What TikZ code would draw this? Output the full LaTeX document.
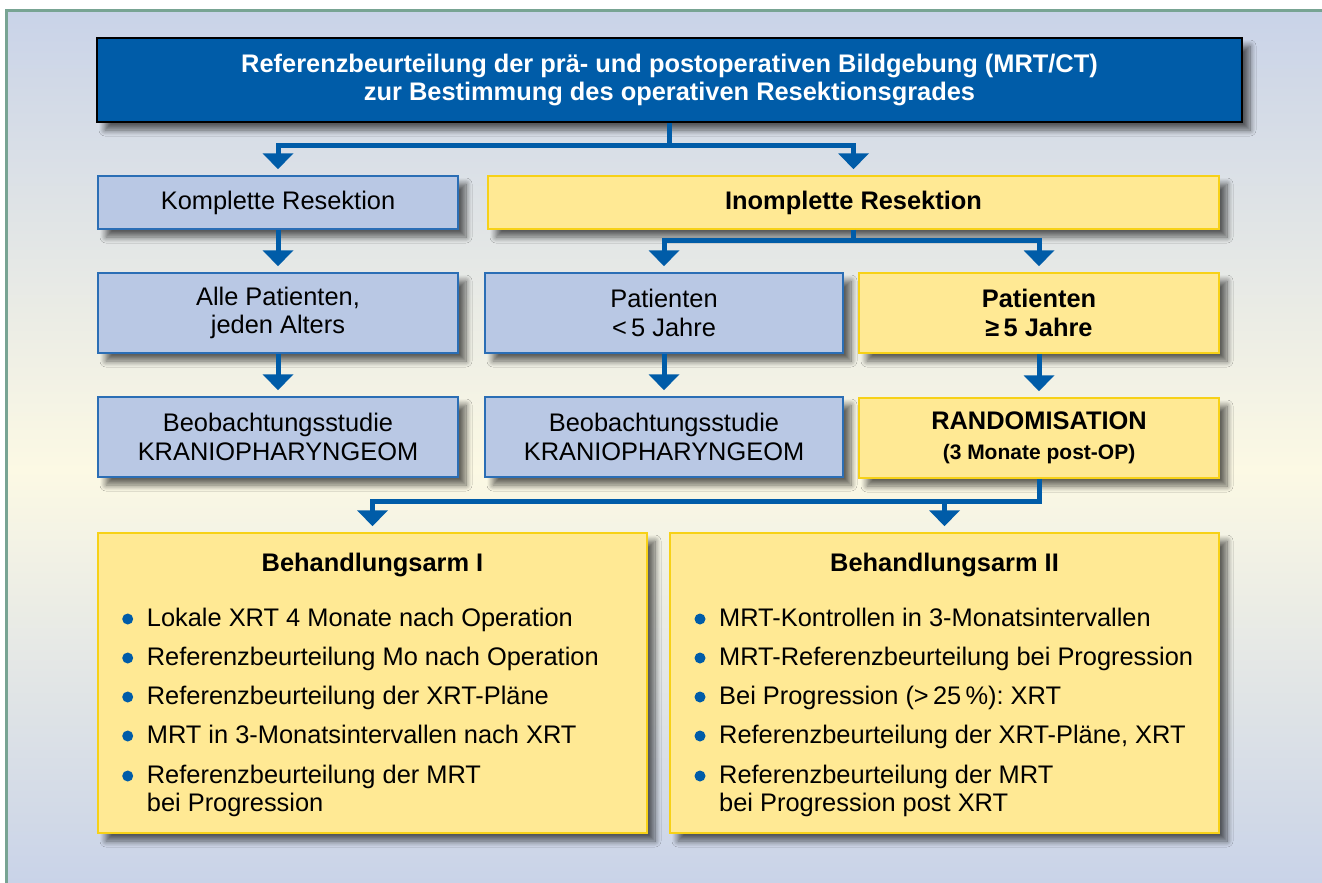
\documentclass[tikz,border=0pt]{standalone}
\usepackage{fontspec}
\setmainfont{Liberation Sans}
\usetikzlibrary{arrows.meta,shadows.blur,calc}
\frenchspacing
\definecolor{dblue}{HTML}{005CA8}
\definecolor{lblue}{HTML}{B9C8E4}
\definecolor{bline}{HTML}{2B6EB5}
\definecolor{yel}{HTML}{FFE994}
\definecolor{yline}{HTML}{F7D117}
\definecolor{bgblue}{HTML}{C9D3E8}
\definecolor{bgcream}{HTML}{FCF9E4}
\definecolor{framecol}{HTML}{78A493}
\begin{document}
\frenchspacing
\begin{tikzpicture}[x=1pt,y=-1pt,
  shad/.style={blur shadow={shadow xshift=8pt,shadow yshift=-8pt,shadow blur radius=6pt,shadow blur steps=10,shadow opacity=60}},
  box/.style={shad,rectangle,inner sep=0pt,align=center,font=\fontsize{25.4}{28.5}\selectfont,line width=1.5pt},
  topbox/.style={box,fill=dblue,draw=black,text=white,font=\fontsize{25.4}{28.5}\selectfont\bfseries,line width=2pt},
  bluebox/.style={box,fill=lblue,draw=bline},
  yelbox/.style={box,fill=yel,draw=yline},
  conn/.style={draw=dblue,line width=5pt},
  arr/.style={conn,-{Triangle[width=30pt,length=16pt]},shorten >=6pt},
  txt/.style={inner sep=0pt,anchor=base west,font=\fontsize{25.4}{28.5}\selectfont},
  ttl/.style={inner sep=0pt,anchor=base,font=\fontsize{25.4}{28.5}\selectfont\bfseries},
  dot/.style={circle,fill=dblue,inner sep=0pt,minimum size=11pt}
]
\useasboundingbox (0,0) rectangle (1322,883);
\fill[white] (0,0) rectangle (1322,883);
\shade[top color=bgblue,bottom color=bgcream] (6,10) rectangle (1322,470);
\shade[top color=bgcream,bottom color=bgblue] (6,469.5) rectangle (1322,883);
\draw[framecol,line width=2.5pt] (6.5,883) -- (6.5,10.5) -- (1322,10.5);

% boxes
\node[topbox,minimum width=1145pt,minimum height=84pt] (top) at (669.5,80)
  {Referenzbeurteilung der prä- und postoperativen Bildgebung (MRT/CT)\\zur Bestimmung des operativen Resektionsgrades};
\node[bluebox,minimum width=360pt,minimum height=53pt] (komp) at (278,202.5) {Komplette Resektion};
\node[yelbox,minimum width=731pt,minimum height=53pt,font=\fontsize{25.4}{28.5}\selectfont\bfseries] (inc) at (853.5,202.5) {Inomplette Resektion};
\node[bluebox,minimum width=360pt,minimum height=80pt] (alle) at (278,313) {Alle Patienten,\\jeden Alters};
\node[bluebox,minimum width=358pt,minimum height=80pt] (pk) at (664,313) {Patienten\\<\,5 Jahre};
\node[yelbox,minimum width=360pt,minimum height=80pt,font=\fontsize{25.4}{28.5}\selectfont\bfseries] (pg) at (1039,313) {Patienten\\≥\,5 Jahre};
\node[bluebox,minimum width=360pt,minimum height=80pt] (beo1) at (278,437) {Beobachtungsstudie\\KRANIOPHARYNGEOM};
\node[bluebox,minimum width=358pt,minimum height=80pt] (beo2) at (664,437) {Beobachtungsstudie\\KRANIOPHARYNGEOM};
\node[yelbox,minimum width=360pt,minimum height=80pt,font=\fontsize{25.4}{30}\selectfont\bfseries] (rand) at (1039,438) {RANDOMISATION\\{\fontsize{21}{24}\selectfont (3 Monate post-OP)}};
\node[yelbox,minimum width=549pt,minimum height=300pt] (arm1) at (372.5,683) {};
\node[yelbox,minimum width=549pt,minimum height=300pt] (arm2) at (944.5,683) {};

% arm I content
\node[ttl] (t1) at (372.5,571) {Behandlungsarm I};
\node[dot] (b11) at (127.7,619) {};
\node[txt] (a11) at (146.7,626) {Lokale XRT 4 Monate nach Operation};
\node[dot] (b12) at (127.7,658) {};
\node[txt] (a12) at (146.7,665) {Referenzbeurteilung Mo nach Operation};
\node[dot] (b13) at (127.7,697) {};
\node[txt] (a13) at (146.7,704) {Referenzbeurteilung der XRT-Pläne};
\node[dot] (b14) at (127.7,736) {};
\node[txt] (a14) at (146.7,743) {MRT in 3-Monatsintervallen nach XRT};
\node[dot] (b15) at (127.7,776) {};
\node[txt] (a15) at (146.7,783) {Referenzbeurteilung der MRT};
\node[txt] (a15b) at (146.7,811) {bei Progression};

% arm II content
\node[ttl] (t2) at (944.5,571) {Behandlungsarm II};
\node[dot] (b21) at (700,619) {};
\node[txt] (a21) at (719,626) {MRT-Kontrollen in 3-Monatsintervallen};
\node[dot] (b22) at (700,658) {};
\node[txt] (a22) at (719,665) {MRT-Referenzbeurteilung bei Progression};
\node[dot] (b23) at (700,697) {};
\node[txt] (a23) at (719,704) {Bei Progression (>\,25\,\%): XRT};
\node[dot] (b24) at (700,736) {};
\node[txt] (a24) at (719,743) {Referenzbeurteilung der XRT-Pläne, XRT};
\node[dot] (b25) at (700,776) {};
\node[txt] (a25) at (719,783) {Referenzbeurteilung der MRT};
\node[txt] (a25b) at (719,811) {bei Progression post XRT};

% connectors
\coordinate (j1) at ($(top.south)+(0,22)$);
\draw[arr] (top.south) -- (j1) -| (komp.north);
\draw[arr] (j1) -| (inc.north);
\coordinate (j2) at ($(inc.south)+(0,11)$);
\draw[arr] (inc.south) -- (j2) -| (pk.north);
\draw[arr] (j2) -| (pg.north);
\draw[arr] (komp.south) -- (alle.north);
\draw[arr] (alle.south) -- (beo1.north);
\draw[arr] (pk.south) -- (beo2.north);
\draw[arr] (pg.south) -- (rand.north);
\coordinate (j3) at ($(rand.south)+(0,23)$);
\draw[arr] (rand.south) -- (j3) -| (arm1.north);
\draw[arr] (j3) -| (arm2.north);
\end{tikzpicture}
\end{document}
